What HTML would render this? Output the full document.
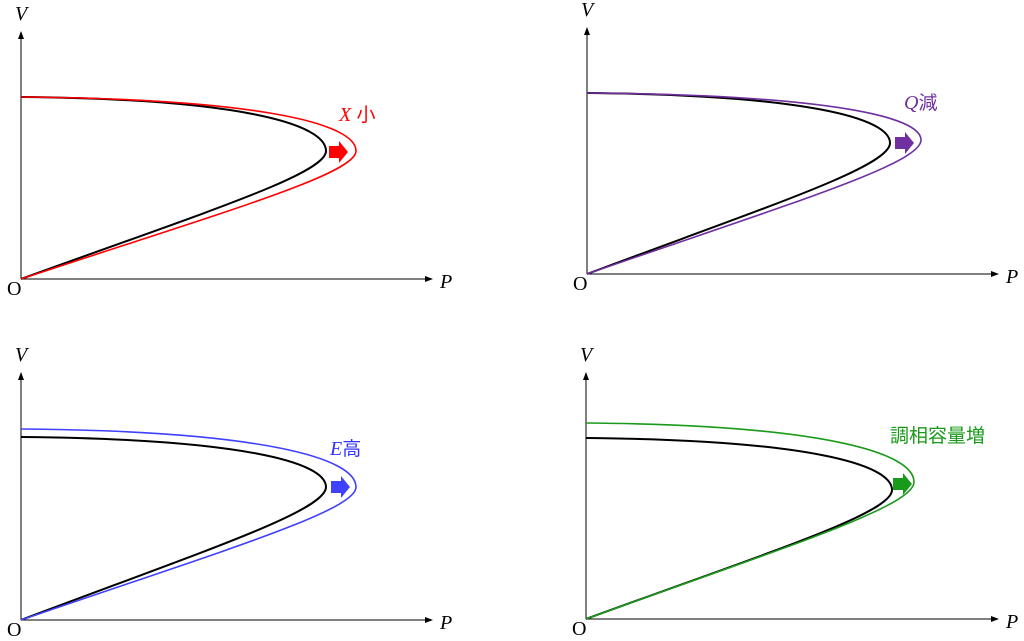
<!DOCTYPE html>
<html><head><meta charset="utf-8"><style>
html,body{margin:0;padding:0;background:#fff;width:1024px;height:641px;overflow:hidden}
svg{display:block}
.lab{font-family:"Liberation Serif",serif;font-style:italic;font-size:20px}
.o{font-family:"Liberation Serif",serif;font-size:20px}
.cj{font-family:"Liberation Sans","Noto Sans CJK JP",sans-serif;font-size:19px}
</style></head><body>
<svg id="s" width="1024" height="641" viewBox="0 0 1024 641" xmlns="http://www.w3.org/2000/svg">
<defs><marker id="ah" markerWidth="8" markerHeight="8" refX="7" refY="4" orient="auto" markerUnits="userSpaceOnUse"><path d="M0,1 L8,4 L0,7 Z" fill="#000"/></marker></defs>
</svg>
<script>
var s=document.getElementById('s');var h='';
function curve(ox,oy,top,nx,ny,col,w){
 var W=nx-ox;
 return '<path d="M'+ox+','+top+' C'+(ox+0.72*W)+','+(top+2)+' '+nx+','+(ny-(ny-top)*0.5)+' '+nx+','+ny+
 ' C'+nx+','+(ny+(oy-ny)*0.18)+' '+(ox+0.6*W)+','+(oy-(oy-ny)*0.52)+' '+ox+','+oy+'" fill="none" stroke="'+col+'" stroke-width="'+w+'"/>';
}
function panel(ox,oy,axTop,axRight,bt,bn,bny,ct,cn,cny,col,label,lx,ly,ax,ay){
 h+='<line x1="'+ox+'" y1="'+oy+'" x2="'+ox+'" y2="'+axTop+'" stroke="#000" stroke-width="1" marker-end="url(#ah)"/>';
 h+='<line x1="'+ox+'" y1="'+oy+'" x2="'+axRight+'" y2="'+oy+'" stroke="#000" stroke-width="1" marker-end="url(#ah)"/>';
 h+='<text class="lab" x="'+(ox-6)+'" y="'+(axTop-12)+'">V</text>';
 h+='<text class="lab" x="'+(axRight+8)+'" y="'+(oy+9)+'">P</text>';
 h+='<text class="o" x="'+(ox-14)+'" y="'+(oy+16)+'">O</text>';
 h+=curve(ox,oy,bt,bn,bny,'#000',2);
 h+=curve(ox,oy,ct,cn,cny,col,1.6);
 h+='<path d="M'+ax+','+(ay-6)+' h10 v-5 l9,11 l-9,11 v-5 h-10 z" fill="'+col+'"/>';
 h+=label.replace('X',lx).replace('Y',ly);
}
panel(21,279,32,432,97,326,151,97,356,151,'#ff0000','<text x="X" y="Y" fill="#ff0000"><tspan class="lab">X</tspan><tspan class="cj"> 小</tspan></text>',339,121,329,152);
panel(587,274,28,998,93,890,143,93,921,140,'#7030a0','<text x="X" y="Y" fill="#7030a0"><tspan class="lab">Q</tspan><tspan class="cj">減</tspan></text>',904,109,895,143);
panel(21,620,373,432,437,326,487,429,356,487,'#4040ff','<text x="X" y="Y" fill="#3333ff"><tspan class="lab">E</tspan><tspan class="cj">高</tspan></text>',330,455,331,487);
panel(586,619,373,998,438,892,490,423,914,482,'#1a9a1a','<text x="X" y="Y" class="cj" fill="#1a9a1a">調相容量増</text>',890,442,893,484);
s.innerHTML+=h;
</script>
</body></html>
